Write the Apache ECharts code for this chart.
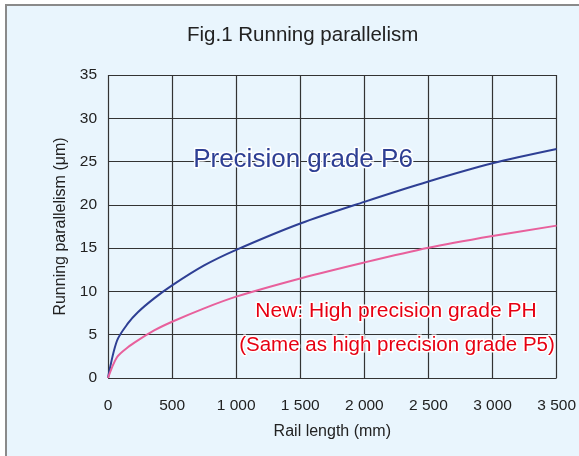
<!DOCTYPE html>
<html>
<head>
<meta charset="utf-8">
<script src="https://cdn.jsdelivr.net/npm/echarts@6/dist/echarts.min.js"></script>
<style>
  html, body { margin: 0; padding: 0; background: #fff; }
  #echart { width: 579px; height: 456px; }
</style>
</head>
<body>
<div id="echart"></div>
<script>
// rail length (mm) and running parallelism (µm)
var railLength = [0, 70, 155, 233, 360, 500, 750, 1000, 1500, 2000, 2500, 3000, 3500];
var gradeP6 = [0, 4.3, 6.3, 7.6, 9.2, 10.7, 13.0, 14.8, 17.85, 20.35, 22.7, 24.8, 26.45];
var gradePH = [0, 2.4, 3.55, 4.35, 5.5, 6.5, 8.05, 9.4, 11.5, 13.35, 15.05, 16.4, 17.6];
var xTicks = ['0', '500', '1 000', '1 500', '2 000', '2 500', '3 000', '3 500'];

var font = 'Liberation Sans';

function pairs(xs, ys) {
	return xs.map(function(x, i) { return [x, ys[i]]; });
}

var myChart = echarts.init(document.getElementById('echart'));
myChart.setOption({
	backgroundColor: '#fff',
	textStyle: { fontFamily: font },
	animation: false,
	title: {
		text: 'Fig.1 Running parallelism',
		left: 182,
		top: 20,
		textStyle: { fontSize: 20.5, fontWeight: 'normal', color: '#222', fontFamily: font }
	},
	graphic: [{
		type: 'rect',
		z: -10,
		shape: { x: 6, y: 5, width: 640, height: 520 },
		style: { fill: '#e9f5fd', stroke: '#8a8a8a', lineWidth: 2 }
	}, {
		type: 'text',
		z: 100,
		x: 303, y: 160,
		style: {
			text: 'Precision grade P6',
			font: '26px "Liberation Sans"',
			fill: '#2e3f94',
			align: 'center', verticalAlign: 'middle',
			stroke: '#fff', lineWidth: 3
		}
	}, {
		type: 'text',
		z: 100,
		x: 396, y: 311,
		style: {
			text: 'New: High precision grade PH',
			font: '21px "Liberation Sans"',
			fill: '#e60012',
			align: 'center', verticalAlign: 'middle',
			stroke: '#fff', lineWidth: 3
		}
	}, {
		type: 'text',
		z: 100,
		x: 397, y: 345,
		style: {
			text: '(Same as high precision grade P5)',
			font: '20.5px "Liberation Sans"',
			fill: '#e60012',
			align: 'center', verticalAlign: 'middle',
			stroke: '#fff', lineWidth: 3
		}
	}],
	grid: { left: 108, top: 75, right: 21, bottom: 78 },
	xAxis: {
		type: 'value',
		min: 0, max: 3500, interval: 500,
		name: 'Rail length (mm)',
		nameLocation: 'middle',
		nameGap: 46,
		nameTextStyle: { fontSize: 16, color: '#222' },
		axisLine: { show: false },
		axisTick: { show: false },
		axisLabel: {
			fontSize: 15.5, color: '#222', margin: 20,
			formatter: function(v) { return xTicks[Math.round(v / 500)]; }
		},
		splitLine: { show: true, lineStyle: { color: '#333', width: 1.2 } }
	},
	yAxis: {
		type: 'value',
		min: 0, max: 35, interval: 5,
		name: 'Running parallelism (μm)',
		nameLocation: 'middle',
		nameGap: 36,
		nameTextStyle: { fontSize: 16, color: '#222' },
		axisLine: { show: false },
		axisTick: { show: false },
		axisLabel: { fontSize: 15.5, color: '#222', margin: 11 },
		splitLine: { show: true, lineStyle: { color: '#333', width: 1.2 } }
	},
	series: [{
		name: 'Precision grade P6',
		type: 'line',
		data: pairs(railLength, gradeP6),
		smooth: 0.3,
		showSymbol: false,
		lineStyle: { color: '#2e3f94', width: 2 }
	}, {
		name: 'High precision grade PH',
		type: 'line',
		data: pairs(railLength, gradePH),
		smooth: 0.3,
		showSymbol: false,
		lineStyle: { color: '#e8609c', width: 2 }
	}]
});
</script>
</body>
</html>
